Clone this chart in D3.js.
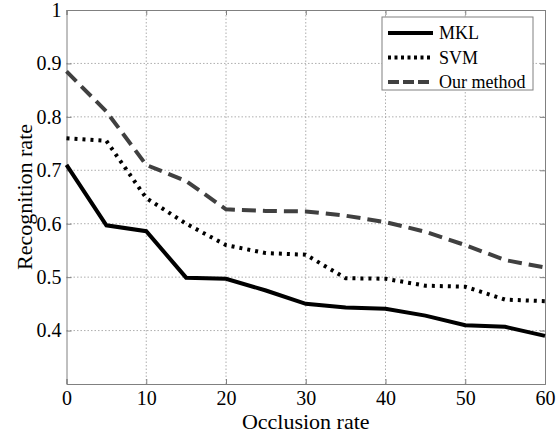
<!DOCTYPE html>
<html><head><meta charset="utf-8">
<script src="https://cdn.jsdelivr.net/npm/d3@7"></script>
<style>body{margin:0;background:#fff}svg{display:block}text{font-family:'Liberation Serif','Times New Roman',serif}</style>
</head><body>
<script>
const occlusion = [0,5,10,15,20,25,30,35,40,45,50,55,60];
const mkl = [0.71,0.597,0.586,0.499,0.497,0.475,0.45,0.443,0.441,0.428,0.41,0.407,0.39];
const svm = [0.76,0.755,0.648,0.6,0.56,0.545,0.542,0.498,0.497,0.484,0.482,0.458,0.455];
const ours = [0.885,0.81,0.71,0.68,0.627,0.624,0.623,0.615,0.603,0.585,0.56,0.532,0.518];
const xTicks = [0,10,20,30,40,50,60];
const yTicks = [0.4,0.5,0.6,0.7,0.8,0.9,1];
const seriesNames = ["MKL","SVM","Our method"];

const W=556,H=437;
const m={l:66.5,t:10,r:11,b:53};
const svg=d3.select("body").append("svg").attr("width",W).attr("height",H);
const x=d3.scaleLinear().domain([0,60]).range([m.l,W-m.r]);
const y=d3.scaleLinear().domain([0.3,1]).range([H-m.b,m.t]);
const font="'Liberation Serif','Times New Roman',serif";

// grid
const g=svg.append("g");
g.selectAll(".gx").data(xTicks.slice(1,-1)).enter().append("line")
 .attr("x1",d=>x(d)).attr("x2",d=>x(d)).attr("y1",y(0.3)).attr("y2",y(1))
 .attr("stroke","#999").attr("stroke-width",0.8).attr("stroke-dasharray","1.5,2");
g.selectAll(".gy").data(yTicks.slice(0,-1)).enter().append("line")
 .attr("y1",d=>y(d)).attr("y2",d=>y(d)).attr("x1",x(0)).attr("x2",x(60))
 .attr("stroke","#999").attr("stroke-width",0.8).attr("stroke-dasharray","1.5,2");

// axes
svg.append("g").attr("transform",`translate(0,${y(0.3)})`)
 .call(d3.axisBottom(x).tickValues(xTicks).tickSize(-5).tickPadding(7).tickFormat(d3.format("d")));
svg.append("g").attr("transform",`translate(${x(0)},0)`)
 .call(d3.axisLeft(y).tickValues(yTicks).tickSize(-5).tickPadding(5).tickFormat(d=>d===1?"1":d3.format(".1f")(d)));
svg.append("g").attr("transform",`translate(0,${y(1)})`)
 .call(d3.axisTop(x).tickValues(xTicks).tickSize(-5).tickFormat(""));
svg.append("g").attr("transform",`translate(${x(60)},0)`)
 .call(d3.axisRight(y).tickValues(yTicks).tickSize(-5).tickFormat(""));
svg.selectAll("g").attr("font-family",null).attr("font-size",null);
svg.selectAll(".domain,.tick line").attr("stroke","#808080");
svg.selectAll(".tick text").style("font-family",font).style("font-size","20px").attr("fill","#000");

// lines
const line=d3.line().x((d,i)=>x(occlusion[i])).y(d=>y(d));
const styles=[
 {data:mkl,color:"#000",dash:null},
 {data:svm,color:"#000",dash:"3,5"},
 {data:ours,color:"#404040",dash:"14,7"}];
styles.forEach(s=>{
 svg.append("path").datum(s.data).attr("d",line).attr("fill","none")
  .attr("stroke",s.color).attr("stroke-width",4)
  .attr("stroke-dasharray",s.dash);
});

// axis titles
svg.append("text").attr("x",(x(0)+x(60))/2).attr("y",429).attr("text-anchor","middle")
 .style("font-family",font).style("font-size","22px").text("Occlusion rate");
svg.append("text").attr("transform",`translate(32,${y(0.65)}) rotate(-90)`).attr("text-anchor","middle")
 .style("font-family",font).style("font-size","22px").text("Recognition rate");

// legend
const lg=svg.append("g");
lg.append("rect").attr("x",382).attr("y",17).attr("width",151).attr("height",73)
 .attr("fill","#fff").attr("stroke","#808080").attr("stroke-width",1);
styles.forEach((s,i)=>{
 const yy=33+i*24.5;
 lg.append("line").attr("x1",388).attr("x2",433).attr("y1",yy).attr("y2",yy)
  .attr("stroke",s.color).attr("stroke-width",4).attr("stroke-dasharray",s.dash?(i===1?"3,3.5":"11,4"):null);
 lg.append("text").attr("x",439).attr("y",yy+6).style("font-family",font).style("font-size","18px").text(seriesNames[i]);
});
</script>
</body></html>
